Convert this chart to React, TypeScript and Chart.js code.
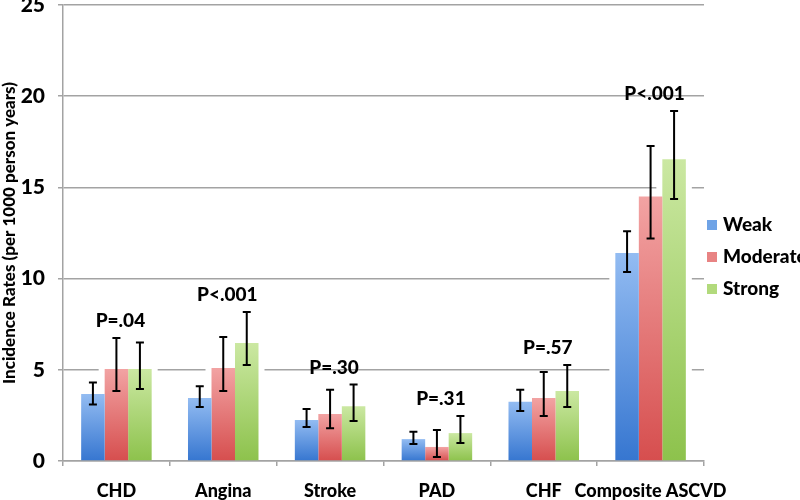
import React, { useEffect, useRef } from "react";
import { Chart, registerables } from "chart.js";

Chart.register(...registerables);

const categories = ["CHD", "Angina", "Stroke", "PAD", "CHF", "Composite ASCVD"];
const seriesNames = ["Weak", "Moderate", "Strong"];

const weak = [3.67, 3.45, 2.25, 1.2, 3.25, 11.4];
const weakLow = [3.1, 2.96, 1.86, 0.93, 2.74, 10.36];
const weakHigh = [4.3, 4.1, 2.85, 1.6, 3.9, 12.6];

const moderate = [5.04, 5.1, 2.58, 0.77, 3.45, 14.5];
const moderateLow = [3.84, 3.84, 1.8, 0.22, 2.47, 12.2];
const moderateHigh = [6.74, 6.8, 3.9, 1.7, 4.88, 17.27];

const strong = [5.05, 6.47, 3.0, 1.53, 3.84, 16.55];
const strongLow = [3.95, 5.26, 2.19, 0.99, 2.96, 14.36];
const strongHigh = [6.5, 8.17, 4.2, 2.47, 5.26, 19.19];

const pValues = ["P=.04", "P<.001", "P=.30", "P=.31", "P=.57", "P<.001"];

const yMin = 0;
const yMax = 25;
const yStep = 5;

const FONT = "Lato, 'Open Sans', sans-serif";
const W = 900;
const GRID = "#a3a3a3";

const gradStops = [
  ["#93bcf2", "#3676d0"],
  ["#f2a3a3", "#d64e4e"],
  ["#cbe8a2", "#8dc24c"],
];
const legendColors = ["#6fa3e6", "#e88383", "#b2da7c"];

const lows = [weakLow, moderateLow, strongLow];
const highs = [weakHigh, moderateHigh, strongHigh];

const haloPlugin = {
  id: "halo",
  beforeDatasetsDraw(chart: any) {
    const ctx = chart.ctx;
    ctx.save();
    ctx.fillStyle = "#ffffff";
    chart.data.datasets.forEach((_: any, di: number) => {
      const meta = chart.getDatasetMeta(di);
      meta.data.forEach((bar: any) => {
        const { x, y, width, base } = bar.getProps(["x", "y", "width", "base"], true);
        ctx.fillRect(x - width / 2 - 6, y - 6, width + 12, base - y + 5);
      });
    });
    ctx.restore();
  },
};

const errorPlugin = {
  id: "errs",
  afterDatasetsDraw(chart: any) {
    const ctx = chart.ctx;
    const ys = chart.scales.y;
    const xs = chart.scales.x;
    ctx.save();
    ctx.strokeStyle = "#000000";
    ctx.lineWidth = 2;
    chart.data.datasets.forEach((_: any, di: number) => {
      const meta = chart.getDatasetMeta(di);
      meta.data.forEach((bar: any, i: number) => {
        const x = bar.x;
        const yl = ys.getPixelForValue(lows[di][i]);
        const yh = ys.getPixelForValue(highs[di][i]);
        ctx.beginPath();
        ctx.moveTo(x, yl);
        ctx.lineTo(x, yh);
        ctx.moveTo(x - 4, yl);
        ctx.lineTo(x + 4, yl);
        ctx.moveTo(x - 4, yh);
        ctx.lineTo(x + 4, yh);
        ctx.stroke();
      });
    });
    // P-value labels
    ctx.fillStyle = "#000000";
    ctx.font = `${W} 19px ${FONT}`;
    ctx.textAlign = "center";
    ctx.textBaseline = "middle";
    categories.forEach((_, i) => {
      const top = Math.max(weakHigh[i], moderateHigh[i], strongHigh[i]);
      const y = ys.getPixelForValue(top) - 17;
      const x = xs.getPixelForValue(i) + 4;
      ctx.fillText(pValues[i], x, y);
    });
    // legend
    const lx = 707;
    const ly = [225, 257, 289];
    seriesNames.forEach((name, k) => {
      ctx.fillStyle = legendColors[k];
      ctx.fillRect(lx, ly[k] - 5, 10, 10);
      ctx.fillStyle = "#000000";
      ctx.textAlign = "left";
      ctx.fillText(name, lx + 16, ly[k]);
    });
    ctx.restore();
  },
};

export default function App() {
  const ref = useRef<HTMLCanvasElement>(null);
  useEffect(() => {
    if (!ref.current) return;
    const values = [weak, moderate, strong];
    const chart = new Chart(ref.current, {
      type: "bar",
      data: {
        labels: categories,
        datasets: values.map((v, k) => ({
          label: seriesNames[k],
          data: v,
          borderWidth: 0,
          backgroundColor: (c: any) => {
            const ch = c.chart;
            const ys = ch.scales?.y;
            if (!ys || c.type !== "data") return gradStops[k][1];
            const top = ys.getPixelForValue(v[c.dataIndex]);
            const bottom = ys.getPixelForValue(0);
            if (!Number.isFinite(top) || !Number.isFinite(bottom) || top === bottom) return gradStops[k][1];
            const g = ch.ctx.createLinearGradient(0, top, 0, bottom);
            g.addColorStop(0, gradStops[k][0]);
            g.addColorStop(1, gradStops[k][1]);
            return g;
          },
        })),
      },
      options: {
        responsive: false,
        animation: false,
        layout: { padding: { top: 5, right: 96, left: 0, bottom: 0 } },
        datasets: { bar: { categoryPercentage: 0.66, barPercentage: 1 } },
        plugins: { legend: { display: false }, tooltip: { enabled: false } },
        scales: {
          x: {
            grid: { drawOnChartArea: false, drawTicks: true, tickLength: 5, color: GRID, lineWidth: 1.5, offset: true },
            border: { color: GRID, width: 1.5 },
            ticks: { color: "#000", font: { family: FONT, size: 18, weight: W }, padding: 14, maxRotation: 0, autoSkip: false },
            afterFit: (s: any) => {
              s.height = 39;
              s.paddingLeft = 0;
              s.paddingRight = 0;
            },
          },
          y: {
            min: yMin,
            max: yMax,
            ticks: { stepSize: yStep, color: "#000", font: { family: FONT, size: 21, weight: W }, padding: 13 },
            grid: { color: GRID, lineWidth: 1.5, tickLength: 5 },
            border: { color: GRID, width: 1.5 },
            title: {
              display: true,
              text: "Incidence Rates (per 1000 person years)",
              color: "#000",
              font: { family: FONT, size: 17, weight: W, lineHeight: 1.1 },
              padding: { top: 0, bottom: 0 },
            },
            afterFit: (s: any) => {
              s.width = 63;
              s.paddingTop = 0;
              s.paddingBottom = 0;
            },
          },
        },
      },
      plugins: [haloPlugin, errorPlugin],
    });
    return () => chart.destroy();
  }, []);
  return (
    <div style={{ position: "fixed", left: 0, top: 0, width: 800, height: 500, background: "#fff" }}>
      <canvas ref={ref} width={800} height={500} />
    </div>
  );
}
